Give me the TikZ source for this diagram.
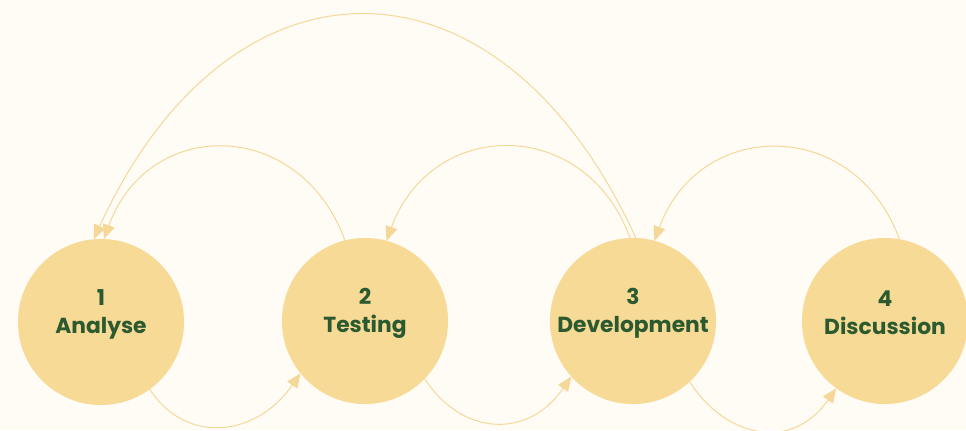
\documentclass[tikz,border=0pt]{standalone}
\usepackage{fontspec}
\setmainfont{Poppins}
\usetikzlibrary{arrows.meta}
\definecolor{bgcream}{HTML}{FFFBF5}
\definecolor{stagefill}{HTML}{F7DA95}
\definecolor{linkcol}{HTML}{F5D898}
\definecolor{textgreen}{HTML}{2B5A30}
\tikzset{
  stage/.style={circle,fill=stagefill,minimum size=4.15cm,inner sep=0pt,outer sep=0pt},
  stagetext/.style={text=textgreen,font=\bfseries\fontsize{15.5}{20}\selectfont,align=center},
  link/.style={draw=linkcol,line width=0.7pt,-{Triangle[length=3.6mm,width=3mm]}},
}
\begin{document}
\begin{tikzpicture}[x=0.025cm,y=0.025cm]
\useasboundingbox (0,0) rectangle (966,430);
\fill[bgcream] (0,0) rectangle (966,430);
% stages
\node[stage] (n1) at (101,108) {};
\node[stage] (n2) at (365,109) {};
\node[stage] (n3) at (633,109) {};
\node[stage] (n4) at (885,109) {};
\node[stagetext] (t1) at ([yshift=0.2cm]n1) {1\\Analyse};
\node[stagetext] (t2) at ([yshift=0.2cm]n2) {2\\Testing};
\node[stagetext] (t3) at ([yshift=0.2cm]n3) {3\\Development};
\node[stagetext] (t4) at ([yshift=0.2cm]n4) {4\\Discussion};
% forward links
\draw[link] (n1.-54) .. controls +(35,-55) and +(-45,-65) .. (n2.219);
\draw[link] (n2.-44) .. controls +(35,-55) and +(-45,-65) .. (n3.222);
\draw[link] (n3.-47) .. controls +(35,-55) and +(-45,-65) .. (n4.234);
% backward links
\draw[link] (n2.104) .. controls +(-45,123) and +(45,123) .. (n1.88);
\draw[link] (n3.92) .. controls +(-45,123) and +(45,123) .. (n2.75);
\draw[link] (n4.80) .. controls +(-45,123) and +(45,123) .. (n3.75);
\draw[link] (n3.88) .. controls +(-136,298) and +(136,298) .. (n1.95);
\end{tikzpicture}
\end{document}
